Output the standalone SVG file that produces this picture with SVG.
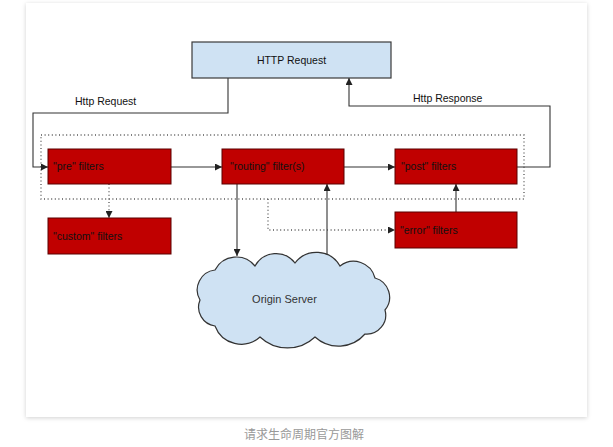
<svg xmlns="http://www.w3.org/2000/svg" width="613" height="447" viewBox="0 0 613 447">
<style>
.t{font-family:"Liberation Sans",Arial,sans-serif;font-size:10.5px;fill:#111}
.red{fill:#c00000;stroke:#5a0000;stroke-width:1}
.blue{fill:#cfe2f3;stroke:#3a3a3a;stroke-width:1.2}
.ln{fill:none;stroke:#333;stroke-width:1.1}
.dot{fill:none;stroke:#555;stroke-width:1.3;stroke-dasharray:1 2.6}
</style>
<defs>
<marker id="ah" markerUnits="userSpaceOnUse" markerWidth="8" markerHeight="7" refX="7" refY="3.5" orient="auto">
<path d="M0,0 L7,3.5 L0,7 z" fill="#222"/>
</marker>
<filter id="sh" x="-5%" y="-5%" width="110%" height="110%">
<feDropShadow dx="0" dy="1" stdDeviation="2" flood-color="#000" flood-opacity="0.18"/>
</filter>
</defs>
<rect x="0" y="0" width="613" height="447" fill="#fff"/>
<rect id="card" x="26" y="3" width="561" height="414" fill="#fff" filter="url(#sh)"/>
<g id="connectors">
<rect x="41" y="135" width="483" height="64" class="dot"/>
<polyline class="ln" points="228,78 228,113 33,113 33,167 48,167" marker-end="url(#ah)"/>
<line class="ln" x1="171" y1="167" x2="222" y2="167" marker-end="url(#ah)"/>
<line class="ln" x1="344" y1="167" x2="395" y2="167" marker-end="url(#ah)"/>
<polyline class="ln" points="517,167 550,167 550,106 349,106 349,78" marker-end="url(#ah)"/>
<line class="ln" x1="237" y1="184" x2="237" y2="256" marker-end="url(#ah)"/>
<line class="ln" x1="327" y1="257" x2="327" y2="184" marker-end="url(#ah)"/>
<line class="ln" x1="456" y1="212" x2="456" y2="184" marker-end="url(#ah)"/>
<line class="dot" x1="109" y1="184" x2="109" y2="218" marker-end="url(#ah)"/>
<polyline class="dot" points="268,199 268,230 395,230" marker-end="url(#ah)"/>
<text class="t" x="75" y="105">Http Request</text>
<text class="t" x="413" y="102">Http Response</text>
</g>
<g id="http-request">
<rect class="blue" x="192" y="42" width="199" height="36"/>
<text class="t" x="291.5" y="64" text-anchor="middle">HTTP Request</text>
</g>
<g id="pre">
<rect class="red" x="48" y="149" width="123" height="35"/>
<text class="t" x="53" y="170">"pre" filters</text>
</g>
<g id="routing">
<rect class="red" x="222" y="149" width="122" height="35"/>
<text class="t" x="230" y="170">"routing" filter(s)</text>
</g>
<g id="post">
<rect class="red" x="395" y="149" width="122" height="35"/>
<text class="t" x="401" y="170">"post" filters</text>
</g>
<g id="custom">
<rect class="red" x="48" y="218" width="123" height="36"/>
<text class="t" x="53" y="240">"custom" filters</text>
</g>
<g id="error">
<rect class="red" x="395" y="212" width="122" height="36"/>
<text class="t" x="400" y="234">"error" filters</text>
</g>
<g id="origin">
<path d="M200,300 A20,20 0 0 1 215,270 A24,24 0 0 1 255,266 A24,24 0 0 1 295,263 A27,27 0 0 1 340,266 A22,22 0 0 1 375,278 A20,20 0 0 1 385,310 A19,19 0 0 1 365,334 A35,35 0 0 1 315,337 A40,40 0 0 1 260,337 A28,28 0 0 1 215,326 A19,19 0 0 1 200,300 Z" fill="#cfe2f3" stroke="#333" stroke-width="1.2"/>
<text class="t" x="284.5" y="303" text-anchor="middle" style="fill:#333;font-size:11px">Origin Server</text>
</g>
<text x="304" y="439" text-anchor="middle" style="font-family:'Noto Sans CJK SC','Noto Sans',sans-serif;font-size:12px;fill:#999">请求生命周期官方图解</text>
</svg>
